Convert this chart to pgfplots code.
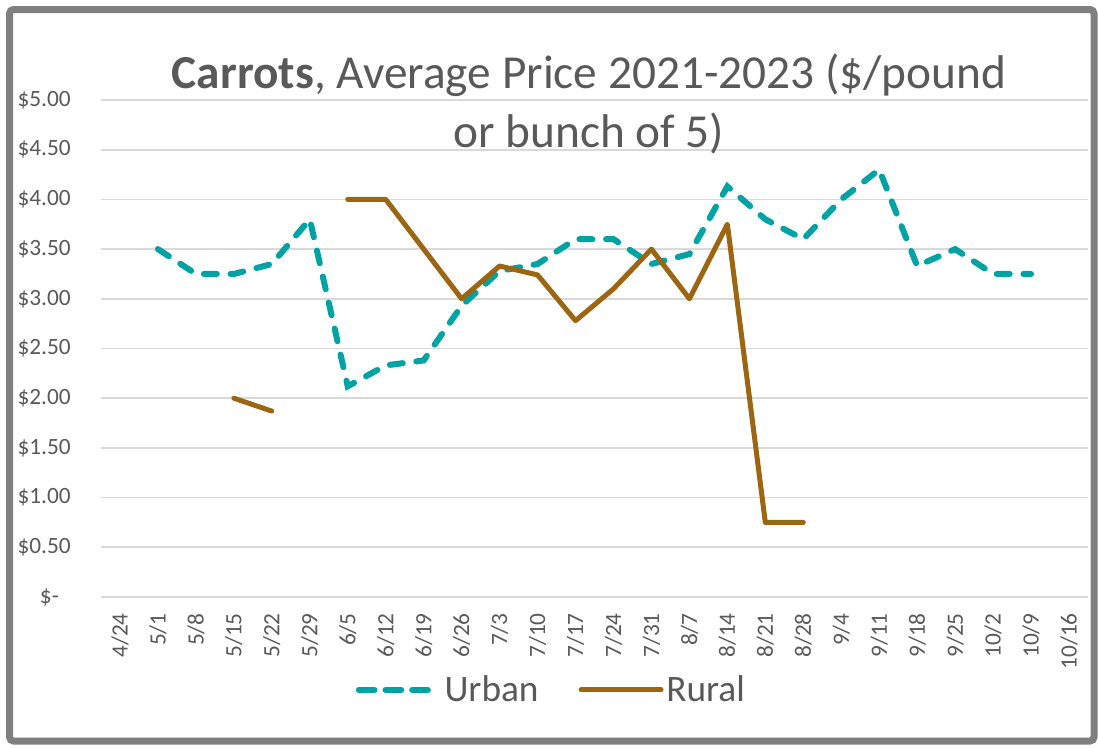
\documentclass[border=0pt]{standalone}
\usepackage{fontspec}
\setmainfont{Carlito}
\usepackage{pgfplots}
\pgfplotsset{compat=1.18}
\definecolor{txt}{RGB}{89,89,89}
\definecolor{gridc}{RGB}{217,217,217}
\definecolor{framec}{RGB}{127,127,127}
\definecolor{urban}{RGB}{0,163,163}
\definecolor{rural}{RGB}{156,101,17}
\pgfplotsset{legend image code/.code={\draw[#1] (2pt,0pt) -- (52pt,0pt); \path (0pt,0pt) -- (60pt,0pt);}}

\begin{document}
\begin{tikzpicture}
\useasboundingbox (-75.75pt,-112.5pt) rectangle (747.75pt,447.75pt);
\draw[framec, line width=5.25pt, rounded corners=3pt] (-68.6pt,-108pt) rectangle (744.75pt,440.6pt);
\begin{axis}[
  at={(0,0)}, anchor=south west, scale only axis,
  width=740.25pt, height=372.75pt,
  xmin=-0.5, xmax=25.5, ymin=0, ymax=5,
  xtick={0,...,25},
  xticklabels={4/24,5/1,5/8,5/15,5/22,5/29,6/5,6/12,6/19,6/26,7/3,7/10,7/17,7/24,7/31,8/7,8/14,8/21,8/28,9/4,9/11,9/18,9/25,10/2,10/9,10/16},
  ytick={0,0.5,...,5},
  yticklabels={\$-\phantom{0},\$0.50,\$1.00,\$1.50,\$2.00,\$2.50,\$3.00,\$3.50,\$4.00,\$4.50,\$5.00},
  ticklabel style={font=\fontsize{17.5}{20}\selectfont, text=txt, inner sep=0pt},
  xticklabel style={rotate=90, anchor=east},
  yticklabel style={anchor=east},
  xticklabel shift=12pt, yticklabel shift=22.5pt,
  axis line style={draw=none}, tick style={draw=none},
  ymajorgrids, grid style={gridc, line width=1.25pt},
  unbounded coords=jump,
  legend style={at={(0.4566,-0.187)}, anchor=center, draw=none, fill=none,
    legend columns=-1, font=\fontsize{28}{30}\selectfont, text=txt,
    /tikz/every even column/.append style={column sep=28pt}},
  legend cell align=left,
]
\addplot[urban, line width=4.5pt, line cap=round, dash pattern=on 9.75pt off 10.25pt]
  coordinates {(1,3.50) (2,3.25) (3,3.25) (4,3.35) (5,3.80) (6,2.12) (7,2.33) (8,2.38) (9,2.93) (10,3.28) (11,3.35) (12,3.60) (13,3.60) (14,3.35) (15,3.45) (16,4.13) (17,3.80) (18,3.60) (19,4.00) (20,4.30) (21,3.33) (22,3.50) (23,3.25) (24,3.25)};
\addplot[rural, line width=3.75pt, line cap=round, line join=round]
  coordinates {(3,2.00) (4,1.87) (5,nan) (6,4.00) (7,4.00) (8,3.50) (9,3.00) (10,3.33) (11,3.24) (12,2.78) (13,3.10) (14,3.50) (15,3.00) (16,3.75) (17,0.75) (18,0.75)};
\legend{Urban,Rural}
\end{axis}
\node[anchor=base, text=txt, font=\fontsize{35.5}{40}\selectfont] at (366pt,381pt) {\textbf{Carrots}, Average Price 2021-2023 (\$/pound};
\node[anchor=base, text=txt, font=\fontsize{35.5}{40}\selectfont] at (366pt,336.75pt) {or bunch of 5)};
\end{tikzpicture}
\end{document}
